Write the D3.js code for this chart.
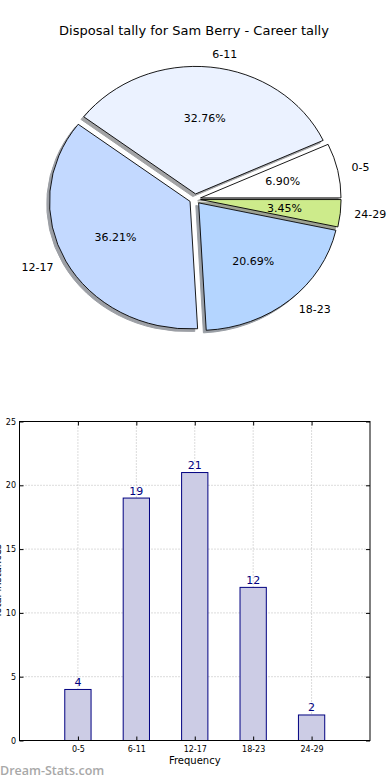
<!DOCTYPE html>
<html>
<head>
<meta charset="utf-8">
<script src="https://cdn.jsdelivr.net/npm/d3@7"></script>
<style>
  body { margin: 0; background: #fff; }
  svg { display: block; font-family: "DejaVu Sans", sans-serif; }
</style>
</head>
<body>
<svg id="chart" width="390" height="780"></svg>
<script>
// data
const groups = ["0-5", "6-11", "12-17", "18-23", "24-29"];
const counts = [4, 19, 21, 12, 2];
const sliceColors = ["#ffffff", "#ebf2ff", "#c3d9ff", "#b4d5ff", "#cdeb8b"];
const yTicks = [0, 5, 10, 15, 20, 25];

const svg = d3.select("#chart");
const total = d3.sum(counts);

// title
svg.append("text")
  .attr("x", 194)
  .attr("y", 35)
  .attr("text-anchor", "middle")
  .style("font-size", "13px")
  .text("Disposal tally for Sam Berry - Career tally");

// ---- pie (matplotlib style: starts at 3 o'clock, counter-clockwise, elliptical) ----
const cx = 195, cy = 199, rx = 140.5, ry = 127.5;
const explode = 0.04;

const pie = d3.pie().sort(null)
  .startAngle(Math.PI / 2)
  .endAngle(Math.PI / 2 - 2 * Math.PI);
const arcs = pie(counts);
const arc = d3.arc().innerRadius(0).outerRadius(1);

const offset = (d) => {
  const a = (d.startAngle + d.endAngle) / 2;
  return [explode * rx * Math.sin(a), -explode * ry * Math.cos(a)];
};

const shade = (c) => {
  const rgb = d3.rgb(c);
  return d3.rgb(rgb.r * 0.3, rgb.g * 0.3, rgb.b * 0.3).toString();
};

const pieG = svg.append("g");

// shadows first
pieG.selectAll(".shadow")
  .data(arcs)
  .enter()
  .append("path")
  .attr("class", "shadow")
  .attr("d", arc)
  .attr("transform", (d) => {
    const [ox, oy] = offset(d);
    return `translate(${cx + ox - 2.8},${cy + oy + 2.6}) scale(${rx},${ry})`;
  })
  .attr("vector-effect", "non-scaling-stroke")
  .style("fill", (d, i) => shade(sliceColors[i]))
  .style("stroke", (d, i) => shade(sliceColors[i]))
  .style("stroke-width", 1)
  .style("opacity", 0.5);

pieG.selectAll(".wedge")
  .data(arcs)
  .enter()
  .append("path")
  .attr("class", "wedge")
  .attr("d", arc)
  .attr("transform", (d) => {
    const [ox, oy] = offset(d);
    return `translate(${cx + ox},${cy + oy}) scale(${rx},${ry})`;
  })
  .attr("vector-effect", "non-scaling-stroke")
  .style("fill", (d, i) => sliceColors[i])
  .style("stroke", "#000")
  .style("stroke-width", 0.9);

// outer labels
pieG.selectAll(".plabel")
  .data(arcs)
  .enter()
  .append("text")
  .attr("class", "plabel")
  .attr("x", (d) => {
    const a = (d.startAngle + d.endAngle) / 2;
    return cx + offset(d)[0] + 1.1 * rx * Math.sin(a);
  })
  .attr("y", (d) => {
    const a = (d.startAngle + d.endAngle) / 2;
    return cy + offset(d)[1] - 1.1 * ry * Math.cos(a) + 3.5;
  })
  .attr("text-anchor", (d) => Math.sin((d.startAngle + d.endAngle) / 2) > 0 ? "start" : "end")
  .style("font-size", "11px")
  .text((d, i) => groups[i]);

// percentages
pieG.selectAll(".pct")
  .data(arcs)
  .enter()
  .append("text")
  .attr("class", "pct")
  .attr("x", (d) => {
    const a = (d.startAngle + d.endAngle) / 2;
    return cx + offset(d)[0] + 0.6 * rx * Math.sin(a);
  })
  .attr("y", (d) => {
    const a = (d.startAngle + d.endAngle) / 2;
    return cy + offset(d)[1] - 0.6 * ry * Math.cos(a) + 4;
  })
  .attr("text-anchor", "middle")
  .style("font-size", "11px")
  .text((d) => (d.value / total * 100).toFixed(2) + "%");

// ---- bar chart ----
const margin = { left: 19.5, right: 20, top: 421.5, bottom: 40 };
const bw = 390 - margin.left - margin.right;
const bh = 740.5 - margin.top;

const g = svg.append("g")
  .attr("transform", `translate(${margin.left},${margin.top})`);

const x = d3.scaleLinear().domain([-1, 5]).range([0, bw]);
const y = d3.scaleLinear().domain([0, 25]).range([bh, 0]);

// grid
g.selectAll(".hgrid")
  .data(yTicks)
  .enter()
  .append("line")
  .attr("x1", 0)
  .attr("x2", bw)
  .attr("y1", (d) => y(d))
  .attr("y2", (d) => y(d))
  .style("stroke", "#b8b8b8")
  .style("stroke-dasharray", "1,2");

g.selectAll(".vgrid")
  .data(groups)
  .enter()
  .append("line")
  .attr("x1", (d, i) => x(i))
  .attr("x2", (d, i) => x(i))
  .attr("y1", 0)
  .attr("y2", bh)
  .style("stroke", "#b8b8b8")
  .style("stroke-dasharray", "1,2");

// bars
const barW = 0.45;
g.selectAll(".bar")
  .data(counts)
  .enter()
  .append("rect")
  .attr("class", "bar")
  .attr("x", (d, i) => x(i - barW / 2))
  .attr("width", x(barW) - x(0))
  .attr("y", (d) => y(d))
  .attr("height", (d) => y(0) - y(d))
  .style("fill", "#ccccE5")
  .style("stroke", "#000080")
  .style("stroke-width", 1);

g.selectAll(".val")
  .data(counts)
  .enter()
  .append("text")
  .attr("x", (d, i) => x(i))
  .attr("y", (d) => y(d) - 3.5)
  .attr("text-anchor", "middle")
  .style("font-size", "11px")
  .style("fill", "#000080")
  .text((d) => d);

// axes
const yAxis = d3.axisLeft(y).tickValues(yTicks).tickSize(-4).tickPadding(3.5);
const yG = g.append("g").call(yAxis);
yG.select(".domain").remove();
yG.selectAll("text").style("font-size", "8px").style("font-family", "DejaVu Sans, sans-serif");

const yAxisR = d3.axisRight(y).tickValues(yTicks).tickSize(-4).tickFormat("");
const yGR = g.append("g").attr("transform", `translate(${bw},0)`).call(yAxisR);
yGR.select(".domain").remove();

const xAxis = d3.axisBottom(x).tickValues(d3.range(groups.length))
  .tickFormat((d) => groups[d]).tickSize(-4).tickPadding(6);
const xG = g.append("g").attr("transform", `translate(0,${bh})`).call(xAxis);
xG.select(".domain").remove();
xG.selectAll("text").style("font-size", "8px").style("font-family", "DejaVu Sans, sans-serif");

const xAxisT = d3.axisTop(x).tickValues(d3.range(groups.length)).tickSize(-4).tickFormat("");
const xGT = g.append("g").call(xAxisT);
xGT.select(".domain").remove();

// frame
g.append("rect")
  .attr("width", bw)
  .attr("height", bh)
  .style("fill", "none")
  .style("stroke", "#000")
  .style("stroke-width", 1);

// axis labels
svg.append("text")
  .attr("x", margin.left + bw / 2)
  .attr("y", 764)
  .attr("text-anchor", "middle")
  .style("font-size", "10px")
  .text("Frequency");

// y label sits mostly outside the left edge, as in the original
svg.append("text")
  .attr("transform", `translate(1,${margin.top + bh / 2}) rotate(-90)`)
  .attr("text-anchor", "middle")
  .style("font-size", "10px")
  .text("Total instances");

// watermark
svg.append("text")
  .attr("x", 0)
  .attr("y", 775)
  .style("font-family", "'Open Sans', sans-serif")
  .style("font-weight", "600")
  .style("font-size", "12.5px")
  .style("fill", "#a8a8a8")
  .text("Dream-Stats.com");
</script>
</body>
</html>
